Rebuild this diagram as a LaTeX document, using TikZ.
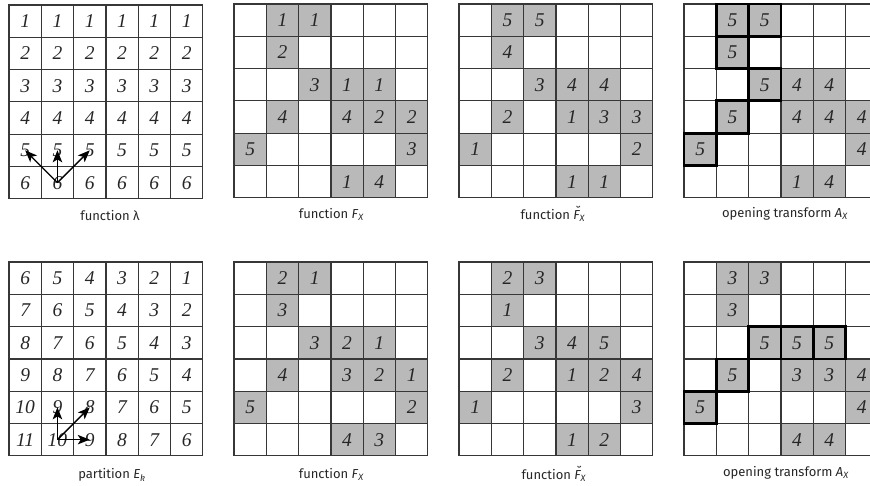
\documentclass[tikz,border=0pt]{standalone}
\usepackage{fontspec}
\setmainfont{Fira Sans}
\newfontfamily\numfont{Liberation Serif}
\usetikzlibrary{arrows.meta}
\definecolor{linec}{RGB}{55,55,55}
\definecolor{shade}{RGB}{185,185,185}
\tikzset{
 cell/.style={draw=linec, line width=1.2pt, minimum size=32.3pt, inner sep=0pt,
   font=\numfont\itshape\fontsize{19.5}{19.5}\selectfont, text=black!85},
 ncell/.style={cell},
 gcell/.style={cell, fill=shade},
 tcell/.style={gcell, draw=black, line width=2.8pt},
 lbl/.style={font=\fontsize{13}{15}\selectfont, text=black!85},
 arr/.style={line width=1.3pt, -{Stealth[length=12pt,width=9.5pt,inset=3pt]}}
}
\newcommand\brF{{\itshape\setbox0\hbox{F}\rlap{\hbox to\wd0{\hss\raisebox{0.2em}{\kern0.15em ˘}\hss}}\box0}}
\newcommand\mkcells[3]{%
 \foreach \r in {1,...,6}{\foreach \c in {1,...,6}{
   \node[cell] (#1-\r-\c) at ({#2+(\c-0.5)*32.3},{#3+(\r-0.5)*32.3}) {};}}}
\newcommand\mkgrid[4]{%
 \mkcells{#1}{#2}{#3}%
 \foreach \r/\c/\v/\s in {#4}{
   \node[\s cell] (#1-v-\r-\c) at (#1-\r-\c) {\v};}}
\begin{document}
\begin{tikzpicture}[x=1pt,y=-1pt]
\useasboundingbox (0,0) rectangle (870,486);
\clip (0,0) rectangle (870,486);
% grid 1: function lambda
\mkcells{A}{9}{5}
\foreach \r in {1,...,6}{\foreach \c in {1,...,6}{
  \node[ncell] (A-v-\r-\c) at (A-\r-\c) {\r};}}
\draw[arr] (A-6-2.center) -- (A-5-1.center);
\draw[arr] (A-6-2.center) -- (A-5-2.center);
\draw[arr] (A-6-2.center) -- (A-5-3.center);
% grid 2
\mkgrid{B}{234}{4}{1/2/1/g,1/3/1/g,2/2/2/g,3/3/3/g,3/4/1/g,3/5/1/g,4/2/4/g,4/4/4/g,4/5/2/g,4/6/2/g,5/1/5/g,5/6/3/g,6/4/1/g,6/5/4/g}
% grid 3
\mkgrid{C}{459}{4}{1/2/5/g,1/3/5/g,2/2/4/g,3/3/3/g,3/4/4/g,3/5/4/g,4/2/2/g,4/4/1/g,4/5/3/g,4/6/3/g,5/1/1/g,5/6/2/g,6/4/1/g,6/5/1/g}
% grid 4
\mkgrid{D}{684}{4}{3/4/4/g,3/5/4/g,4/4/4/g,4/5/4/g,4/6/4/g,5/6/4/g,6/4/1/g,6/5/4/g,1/2/5/t,1/3/5/t,2/2/5/t,3/3/5/t,4/2/5/t,5/1/5/t}
% grid 5: partition
\mkcells{E}{9}{262}
\foreach \r in {1,...,6}{\foreach \c in {1,...,6}{
  \pgfmathtruncatemacro\vv{\r+6-\c}
  \node[ncell] (E-v-\r-\c) at (E-\r-\c) {\vv};}}
\draw[arr] (E-6-2.center) -- (E-5-2.center);
\draw[arr] (E-6-2.center) -- (E-5-3.center);
\draw[arr] (E-6-2.center) -- (E-6-3.center);
% grid 6
\mkgrid{F}{234}{262}{1/2/2/g,1/3/1/g,2/2/3/g,3/3/3/g,3/4/2/g,3/5/1/g,4/2/4/g,4/4/3/g,4/5/2/g,4/6/1/g,5/1/5/g,5/6/2/g,6/4/4/g,6/5/3/g}
% grid 7
\mkgrid{G}{459}{262}{1/2/2/g,1/3/3/g,2/2/1/g,3/3/3/g,3/4/4/g,3/5/5/g,4/2/2/g,4/4/1/g,4/5/2/g,4/6/4/g,5/1/1/g,5/6/3/g,6/4/1/g,6/5/2/g}
% grid 8
\mkgrid{H}{684}{262}{1/2/3/g,1/3/3/g,2/2/3/g,4/4/3/g,4/5/3/g,4/6/4/g,5/6/4/g,6/4/4/g,6/5/4/g,3/3/5/t,3/4/5/t,3/5/5/t,4/2/5/t,5/1/5/t}
% labels
\node[lbl] (lA) at (110,216) {function λ};
\node[lbl] (lB) at (331.5,214) {function \textit{F}\textsubscript{\textit{X}}};
\node[lbl] (lC) at (553,214) {function \brF\textsubscript{\textit{X}}};
\node[lbl] (lD) at (785,214) {opening transform \textit{A}\textsubscript{\textit{X}}};
\node[lbl] (lE) at (112,475) {partition \textit{E}\textsubscript{\textit{k}}};
\node[lbl] (lF) at (331.5,474) {function \textit{F}\textsubscript{\textit{X}}};
\node[lbl] (lG) at (554,474) {function \brF\textsubscript{\textit{X}}};
\node[lbl] (lH) at (786,473) {opening transform \textit{A}\textsubscript{\textit{X}}};
\end{tikzpicture}
\end{document}
